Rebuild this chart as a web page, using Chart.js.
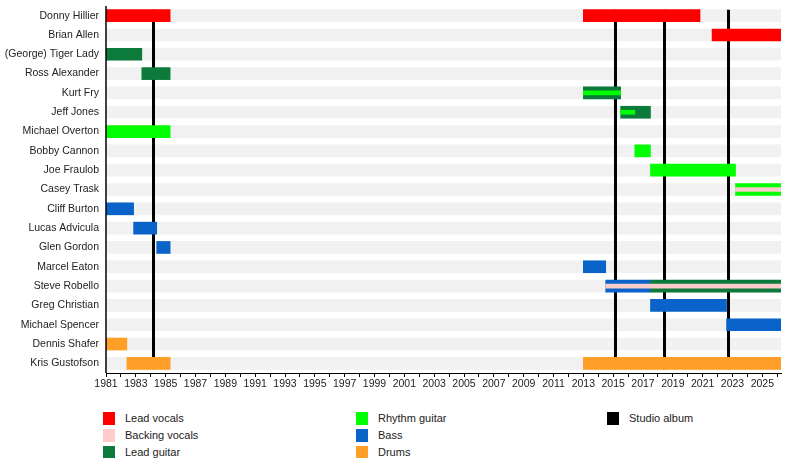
<!DOCTYPE html>
<html>
<head>
<meta charset="utf-8">
<script src="https://cdn.jsdelivr.net/npm/chart.js@4"></script>
<style>
  body { margin:0; background:#fff; font-family:"Liberation Sans", Arial, sans-serif; }
  #wrap { position:relative; width:800px; height:458px; }
  #chart { position:absolute; left:0; top:0; }
  .lg { position:absolute; font-size:11px; color:#222; line-height:13px; }
  .lg i { position:absolute; left:0; top:0; width:12px; height:13px; }
  .lg span { position:absolute; left:22px; top:0; white-space:nowrap; }
</style>
</head>
<body>
<div id="wrap">
  <canvas id="chart" width="800" height="400"></canvas>
</div>
<script>
// Members (top to bottom)
const members = ['Donny Hillier','Brian Allen','(George) Tiger Lady','Ross Alexander','Kurt Fry','Jeff Jones',
  'Michael Overton','Bobby Cannon','Joe Fraulob','Casey Trask','Cliff Burton','Lucas Advicula','Glen Gordon',
  'Marcel Eaton','Steve Robello','Greg Christian','Michael Spencer','Dennis Shafer','Kris Gustofson'];

const START = 1981, END = 2026.25;

// periods: [member, from, to]
const leadVocals = [['Donny Hillier',1981,1985.3],['Donny Hillier',2013,2020.82],['Brian Allen',2021.63,END]];
const leadGuitar = [['(George) Tiger Lady',1981,1983.4],['Ross Alexander',1983.4,1985.3],['Kurt Fry',2013,2015.5],
  ['Jeff Jones',2015.5,2017.5],['Steve Robello',2017.5,END]];
const rhythmGuitar = [['Michael Overton',1981,1985.3],['Bobby Cannon',2016.45,2017.5],['Joe Fraulob',2017.5,2023.2],
  ['Casey Trask',2023.2,END]];
const bass = [['Cliff Burton',1981,1982.85],['Lucas Advicula',1982.85,1984.4],['Glen Gordon',1984.4,1985.3],
  ['Marcel Eaton',2013,2014.5],['Steve Robello',2014.5,2017.5],['Greg Christian',2017.5,2022.6],
  ['Michael Spencer',2022.6,END]];
const drums = [['Dennis Shafer',1981,1982.4],['Kris Gustofson',1982.4,1985.3],['Kris Gustofson',2013,END]];
// secondary roles, drawn as thin stripe inside the bar
const rhythmGuitarInner = [['Kurt Fry',2013,2015.5],['Jeff Jones',2015.5,2016.45]];
const backingVocalsInner = [['Casey Trask',2023.2,END],['Steve Robello',2014.5,END]];

const studioAlbums = [1984.17, 2015.15, 2018.4, 2022.72];

const colors = {
  'Lead vocals':'#ff0000', 'Backing vocals':'#ffcccc', 'Lead guitar':'#0b7a3b',
  'Rhythm guitar':'#00ff00', 'Bass':'#0a63c8', 'Drums':'#ff9f27', 'Studio album':'#000000'
};
const legendCols = [['Lead vocals','Backing vocals','Lead guitar'],['Rhythm guitar','Bass','Drums'],['Studio album']];

const FONT = '"Liberation Sans", Arial, sans-serif';

const toData = rows => rows.map(r => ({ y: r[0], x: [r[1], r[2]] }));
const ds = (label, rows, color, thick, order) => ({
  label, data: toData(rows), backgroundColor: color, borderWidth: 0,
  barThickness: thick, grouped: false, order
});

const datasets = [
  ds('Rhythm guitar (inner)', rhythmGuitarInner, colors['Rhythm guitar'], 4, 1),
  ds('Backing vocals (inner)', backingVocalsInner, colors['Backing vocals'], 4, 1),
  ds('Lead vocals', leadVocals, colors['Lead vocals'], 12, 2),
  ds('Lead guitar', leadGuitar, colors['Lead guitar'], 12, 2),
  ds('Rhythm guitar', rhythmGuitar, colors['Rhythm guitar'], 12, 2),
  ds('Bass', bass, colors['Bass'], 12, 2),
  ds('Drums', drums, colors['Drums'], 12, 2),
  Object.assign(ds('stripes', members.map(m => [m, START, END]), '#f1f1f1', 12, 3), { id: 'stripes' })
];

// album lines sit above the grey stripes but under the member bars
const albumLines = {
  id: 'albumLines',
  afterDatasetDraw(chart, args) {
    if (chart.data.datasets[args.index].id !== 'stripes') return;
    const x = chart.scales.x, y = chart.scales.y, c = chart.ctx;
    const y1 = y.getPixelForValue(0) - 6, y2 = y.getPixelForValue(members.length - 1) + 6;
    c.save();
    c.strokeStyle = colors['Studio album'];
    c.lineWidth = 3;
    studioAlbums.forEach(a => {
      const px = Math.round(x.getPixelForValue(a)) + 0.5;
      c.beginPath(); c.moveTo(px, y1); c.lineTo(px, y2); c.stroke();
    });
    c.restore();
  },
  // left axis line on top of everything
  afterDatasetsDraw(chart) {
    const a = chart.chartArea, c = chart.ctx;
    c.save();
    c.strokeStyle = '#000'; c.lineWidth = 1.5;
    c.beginPath(); c.moveTo(a.left, a.top); c.lineTo(a.left, a.bottom); c.stroke();
    c.restore();
  }
};

new Chart(document.getElementById('chart'), {
  type: 'bar',
  data: { labels: members, datasets },
  plugins: [albumLines],
  options: {
    indexAxis: 'y',
    responsive: false,
    animation: false,
    layout: { padding: { top: 6, right: 19, left: 0, bottom: 0 } },
    plugins: { legend: { display: false }, tooltip: { enabled: false } },
    scales: {
      x: {
        type: 'linear', min: START, max: END,
        afterFit: s => { s.height = 27; },
        grid: { drawOnChartArea: false, drawTicks: true, tickLength: 4, color: '#000' },
        border: { color: '#000', width: 1 },
        ticks: {
          stepSize: 1, autoSkip: false, maxRotation: 0, includeBounds: false, padding: 1,
          color: '#222', font: { family: FONT, size: 10.5 },
          callback: v => ((v - START) % 2 === 0 ? String(v) : '')
        }
      },
      y: {
        afterFit: s => { s.width = 106; s.paddingTop = 0; s.paddingBottom = 0; },
        grid: { display: false, drawTicks: false },
        border: { display: false },
        ticks: { padding: 7, color: '#222', font: { family: FONT, size: 10.5 } }
      }
    }
  }
});

// legend in three columns
const wrap = document.getElementById('wrap');
const colX = [103, 356, 607];
legendCols.forEach((col, ci) => col.forEach((name, ri) => {
  const d = document.createElement('div');
  d.className = 'lg';
  d.style.left = colX[ci] + 'px';
  d.style.top = (412 + ri * 17) + 'px';
  d.innerHTML = `<i style="background:${colors[name]}"></i><span>${name}</span>`;
  wrap.appendChild(d);
}));
</script>
</body>
</html>
